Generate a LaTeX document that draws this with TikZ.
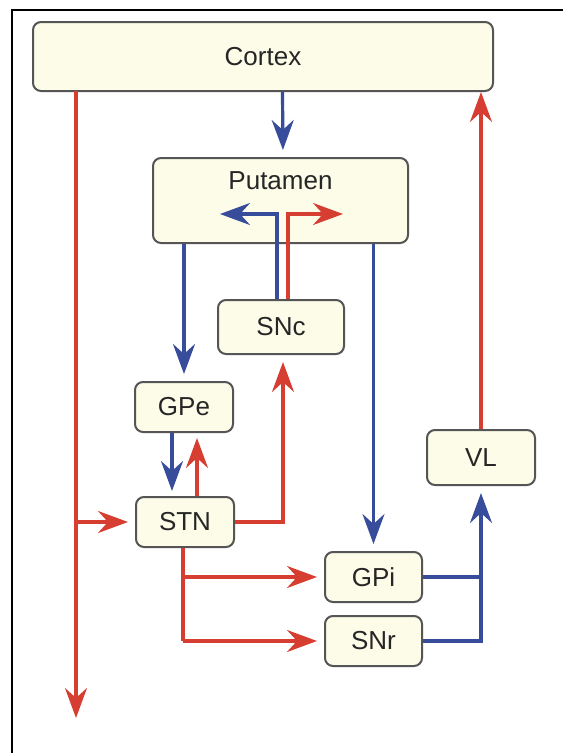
\documentclass[tikz,border=0pt]{standalone}
\usepackage{fontspec}
\setmainfont{Liberation Sans}
\usetikzlibrary{arrows.meta,calc}
\definecolor{rd}{RGB}{214,62,50}
\definecolor{bl}{RGB}{56,76,156}
\definecolor{bx}{RGB}{252,252,232}
\definecolor{bd}{RGB}{85,85,85}
\begin{document}
\begin{tikzpicture}[x=1pt,y=-1pt,
  box/.style={draw=bd,line width=2pt,fill=bx,rounded corners=8pt,inner sep=0pt},
  lbl/.style={font=\fontsize{26}{30}\selectfont,text=black!85,inner sep=0pt},
  tip/.style={-{Stealth[length=30pt,width=22pt,inset=10pt]}},
  rl/.style={draw=rd,line width=3.2pt},
  bll/.style={draw=bl,line width=3.2pt},
  ra/.style={rl,tip,shorten >=7pt},
  ba/.style={bll,tip,shorten >=7pt}]
\useasboundingbox (0,0) rectangle (563,753);
\fill[white] (0,0) rectangle (563,753);
\draw[line width=2pt] (12,753) -- (12,10) -- (563,10);

% boxes
\node[box,minimum width=460pt,minimum height=69pt] (cortex) at (263,56.5) {};
\node[lbl] at (cortex) {Cortex};
\node[box,minimum width=255pt,minimum height=85pt] (put) at (280.5,200.5) {};
\node[lbl] (putl) at (280.5,180.5) {Putamen};
\node[box,minimum width=126pt,minimum height=54pt] (snc) at (281,327) {};
\node[lbl] at (snc) {SNc};
\node[box,minimum width=98pt,minimum height=50pt] (gpe) at (184,407) {};
\node[lbl] at (gpe) {GPe};
\node[box,minimum width=98pt,minimum height=50pt] (stn) at (185,522) {};
\node[lbl] at (stn) {STN};
\node[box,minimum width=97pt,minimum height=50pt] (gpi) at (373.5,577) {};
\node[lbl] at (gpi) {GPi};
\node[box,minimum width=97pt,minimum height=50pt] (snr) at (373.5,641) {};
\node[lbl] at (snr) {SNr};
\node[box,minimum width=108pt,minimum height=55pt] (vl) at (481,457.5) {};
\node[lbl] at (vl) {VL};

% helper coordinates
\coordinate (lt) at (76,91);
\coordinate (lb) at (76,718);
\coordinate (sj) at (183,577);
\coordinate (sk) at (183,641);
\coordinate (pl) at (220,214);
\coordinate (pr) at (343,214);
\coordinate (sc) at (283,522);

% cortex -> putamen
\draw[ba] ([xshift=19.5pt]cortex.south) -- ([xshift=2.5pt]put.north);
% left red trunk
\draw[rl,tip] (lt) -- (lb);
\draw[ra] (lt |- stn.west) -- (stn.west);
% VL -> cortex
\draw[rl,tip] (vl.north) -- (vl.north |- cortex.south);
% GPi / SNr -> VL
\draw[bll] (gpi.east) -- (gpi.east -| vl.south);
\draw[ba] (snr.east) -- (snr.east -| vl.south) -- (vl.south);
% putamen -> GPe, GPi
\draw[ba] (put.south -| gpe.north) -- (gpe.north);
\draw[ba] (put.south -| gpi.north) -- (gpi.north);
% SNc -> putamen
\draw[bll,tip] ([xshift=-4pt]snc.north) -- ([xshift=-4pt]snc.north |- pl) -- (pl);
\draw[rl,tip] ([xshift=7pt]snc.north) -- ([xshift=7pt]snc.north |- pr) -- (pr);
% GPe <-> STN
\draw[ba,shorten >=5pt] ([xshift=-12pt]gpe.south) -- ([xshift=-13pt]stn.north);
\draw[ra,shorten >=5pt] ([xshift=12pt]stn.north) -- ([xshift=13pt]gpe.south);
% STN -> SNc
\draw[ra] (stn.east) -- (sc) -- ([xshift=2pt]snc.south);
% STN -> GPi, SNr
\draw[rl] ([xshift=-2pt]stn.south) -- (sk);
\draw[ra] (sj) -- (gpi.west);
\draw[ra] (sk) -- (snr.west);
\end{tikzpicture}
\end{document}
